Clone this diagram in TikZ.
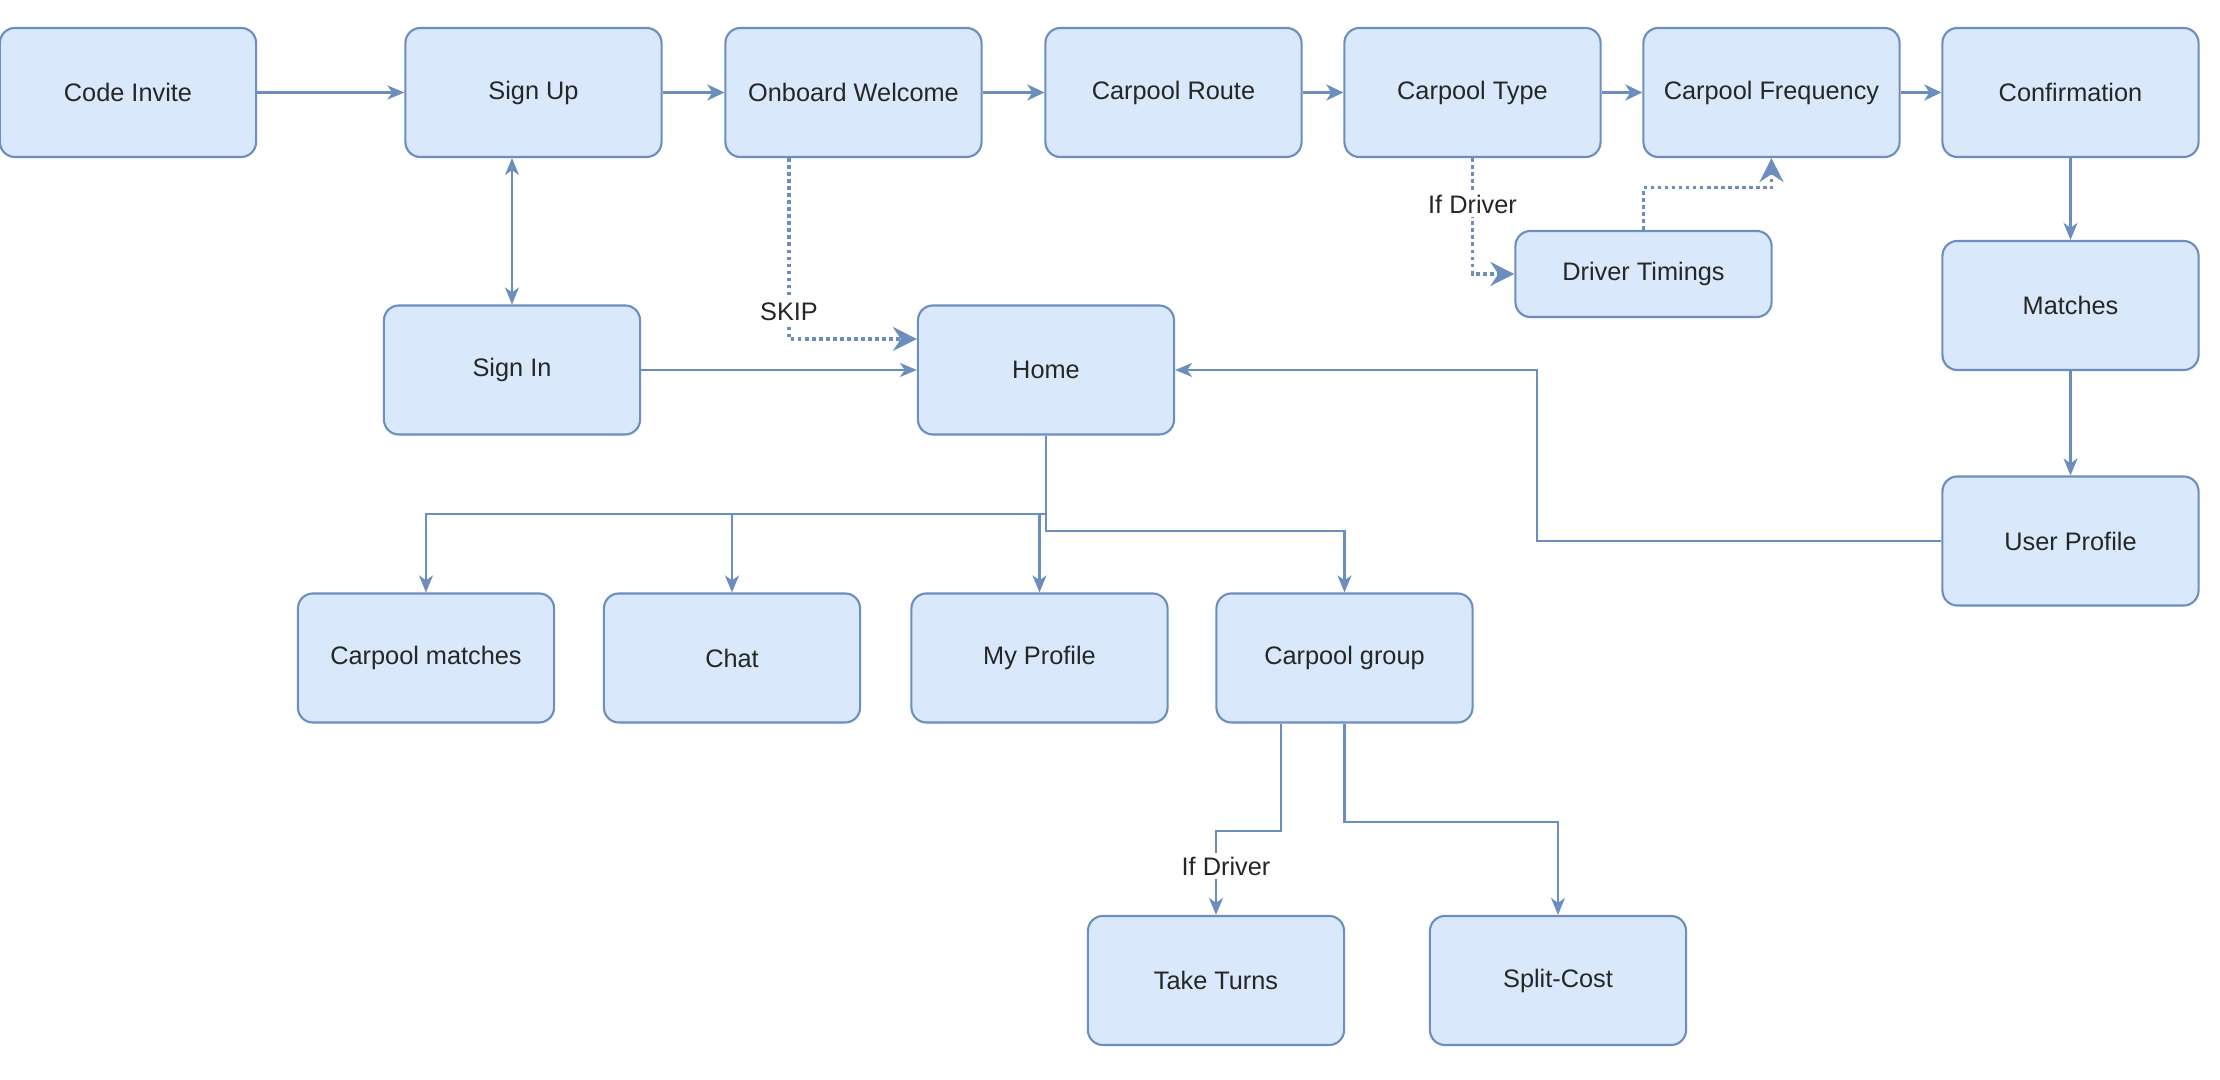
\documentclass[tikz,border=0pt]{standalone}
\usepackage{fontspec}
\setmainfont{Liberation Sans}
\usetikzlibrary{arrows.meta}
\definecolor{bfill}{HTML}{DAE8FC}
\definecolor{bline}{HTML}{6C8EBF}
\begin{document}
\begin{tikzpicture}[x=0.01cm,y=-0.01cm,
  box/.style={draw=bline, fill=bfill, rounded corners=0.15cm, line width=0.6pt,
    minimum width=2.56cm, minimum height=1.29cm, inner sep=0pt,
    font=\fontsize{7.2}{8.6}\selectfont, text=black!85},
  smallbox/.style={box, minimum height=0.86cm},
  arr/.style={draw=bline, line width=0.6pt, -{Stealth[length=1.7mm,width=1.4mm,inset=0.5mm]}},
  arrboth/.style={draw=bline, line width=0.6pt, {Stealth[length=1.7mm,width=1.4mm,inset=0.5mm]}-{Stealth[length=1.7mm,width=1.4mm,inset=0.5mm]}},
  thickarr/.style={draw=bline, line width=1.1pt, -{Stealth[length=1.7mm,width=1.6mm,inset=0.5mm]}},
  dotarr/.style={draw=bline, line width=0.9pt, dash pattern=on 1pt off 1pt, -{Stealth[length=2.4mm,width=2.4mm,inset=0.8mm]}},
  lbl/.style={fill=white, inner sep=1pt, font=\fontsize{7.2}{8.6}\selectfont, text=black!85}]
\useasboundingbox (0,0) rectangle (2220,1080);

% row 1
\node[box] (code)    at (128,92.5)    {Code Invite};
\node[box] (signup)  at (533.5,92.5)  {Sign Up};
\node[box] (onboard) at (853.5,92.5)  {Onboard Welcome};
\node[box] (route)   at (1173.5,92.5) {Carpool Route};
\node[box] (ctype)   at (1472.5,92.5) {Carpool Type};
\node[box] (freq)    at (1771.5,92.5) {Carpool Frequency};
\node[box] (conf)    at (2070.5,92.5) {Confirmation};
% row 2
\node[box] (signin)  at (512,370)     {Sign In};
\node[box] (home)    at (1046,370)    {Home};
\node[smallbox] (timings) at (1643.5,274) {Driver Timings};
\node[box] (matches) at (2070.5,305.5) {Matches};
\node[box] (uprof)   at (2070.5,541)  {User Profile};
% row 3
\node[box] (cmatch)  at (426,658)     {Carpool matches};
\node[box] (chat)    at (732,658)     {Chat};
\node[box] (myprof)  at (1039.5,658)  {My Profile};
\node[box] (cgroup)  at (1344.5,658)  {Carpool group};
% row 4
\node[box] (turns)   at (1216,980.5)  {Take Turns};
\node[box] (split)   at (1558,980.5)  {Split-Cost};

\coordinate (upbend) at (1537,541);

% connectors
\draw[arr] (code) -- (signup);
\draw[thickarr] (signup) -- (onboard);
\draw[thickarr] (onboard) -- (route);
\draw[thickarr] (route) -- (ctype);
\draw[thickarr] (ctype) -- (freq);
\draw[thickarr] (freq) -- (conf);
\draw[arrboth] (signin.north) -- (signin.north |- signup.south);
\draw[arr] (signin) -- (home);
\draw[dotarr] ([xshift=-0.645cm]onboard.south) |- node[lbl, pos=0.425] {SKIP} ([yshift=0.31cm]home.west);
\draw[dotarr] (ctype.south) |- node[lbl, pos=0.2] {If Driver} (timings.west);
\draw[dotarr] (timings.north) -- ++(0,-42) -| (freq.south);
\draw[arr] (conf) -- (matches);
\draw[arr] (matches) -- (uprof);
\draw[arr] (uprof.west) -- (upbend) |- (home.east);
\draw[arr] (home.south) -- ++(0,78) -| (cmatch.north);
\draw[arr] (home.south) -- ++(0,78) -| (chat.north);
\draw[arr] (home.south) -- ++(0,78) -| (myprof.north);
\draw[arr] (home.south) -- ++(0,95) -| (cgroup.north);
\draw[arr] ([xshift=-0.635cm]cgroup.south) -- ++(0,107) -| node[lbl, pos=0.71, xshift=0.1cm] {If Driver} (turns.north);
\draw[arr] (cgroup.south) -- ++(0,98) -| (split.north);
\end{tikzpicture}
\end{document}
